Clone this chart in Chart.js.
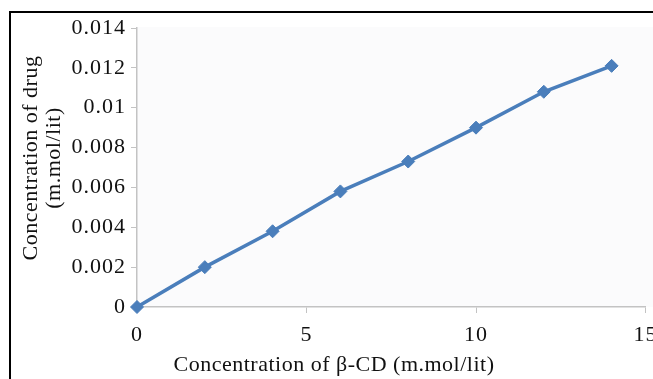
<!DOCTYPE html>
<html>
<head>
<meta charset="utf-8">
<script src="https://cdn.jsdelivr.net/npm/chart.js@4/dist/chart.umd.min.js"></script>
<style>
  html, body { margin: 0; padding: 0; background: #ffffff; }
  #wrap { width: 653px; height: 379px; position: relative; }
</style>
</head>
<body>
<div id="wrap"><canvas id="c" width="653" height="379"></canvas></div>
<script>
// β-CD concentration (m.mol/lit) and measured drug concentration (m.mol/lit)
const betaCD = [0, 2, 4, 6, 8, 10, 12, 14];
const drugConc = [0, 0.002, 0.0038, 0.0058, 0.0073, 0.009, 0.0108, 0.0121];

// axis ticks
const xTickValues = [0, 5, 10, 15];
const xTickLabels = ['0', '5', '10', '15'];
const yTickValues = [0, 0.002, 0.004, 0.006, 0.008, 0.01, 0.012, 0.014];
const yTickLabels = ['0', '0.002', '0.004', '0.006', '0.008', '0.01', '0.012', '0.014'];

// axis titles
const xTitle = 'Concentration of \u03B2-CD (m.mol/lit)';
const yTitleLines = ['Concentration of drug', '(m.mol/lit)'];

const FONT = "'Liberation Serif', 'Times New Roman', serif";
const SERIES_BLUE = '#4a7ebb';
const AXIS_GREY = '#c3c3c3';

const points = betaCD.map((x, i) => ({ x: x, y: drugConc[i] }));

// slightly open tracking for the tick labels
const tracking = {
  id: 'tracking',
  beforeUpdate(chart) { chart.ctx.letterSpacing = '1px'; },
  beforeDraw(chart) { chart.ctx.letterSpacing = '1px'; }
};

// plot background, axis titles and the black frame
const decorations = {
  id: 'decorations',
  beforeDraw(chart) {
    const { ctx, chartArea: a } = chart;
    ctx.save();
    ctx.fillStyle = '#fbfbfc';
    ctx.fillRect(a.left, a.top - 1, chart.width - a.left, a.bottom - a.top + 1);
    ctx.restore();
  },
  afterDraw(chart) {
    const { ctx } = chart;
    ctx.save();
    ctx.letterSpacing = '0.5px';
    ctx.fillStyle = '#111111';
    ctx.font = '22px ' + FONT;
    ctx.textAlign = 'center';
    ctx.textBaseline = 'alphabetic';
    ctx.fillText(xTitle, 334, 371);

    const baselines = [37, 60];
    yTitleLines.forEach((line, i) => {
      ctx.save();
      ctx.translate(baselines[i], 158);
      ctx.rotate(-Math.PI / 2);
      ctx.fillText(line, 0, 0);
      ctx.restore();
    });

    ctx.fillStyle = '#000000';
    ctx.fillRect(9, 11, chart.width - 9, 2);
    ctx.fillRect(9, 11, 2, chart.height - 11);
    ctx.restore();
  }
};

new Chart(document.getElementById('c'), {
  type: 'scatter',
  data: {
    datasets: [{
      data: points,
      showLine: true,
      borderColor: SERIES_BLUE,
      borderWidth: 3.5,
      tension: 0,
      pointStyle: 'rectRot',
      pointRadius: 6.5,
      pointBackgroundColor: SERIES_BLUE,
      pointBorderColor: SERIES_BLUE,
      pointBorderWidth: 1,
      clip: false
    }]
  },
  options: {
    responsive: false,
    animation: false,
    devicePixelRatio: 1,
    layout: { padding: { left: 0, right: 5, top: 28, bottom: 0 } },
    plugins: { legend: { display: false }, tooltip: { enabled: false } },
    scales: {
      x: {
        type: 'linear',
        min: 0,
        max: 15,
        afterBuildTicks: s => { s.ticks = xTickValues.map(v => ({ value: v })); },
        afterFit: s => { s.height = 72; s.paddingLeft = 0; s.paddingRight = 0; },
        grid: { display: true, drawOnChartArea: false, drawTicks: true, tickLength: 6, color: AXIS_GREY, lineWidth: 1 },
        border: { display: true, color: AXIS_GREY, width: 1.5 },
        ticks: {
          autoSkip: false,
          maxRotation: 0,
          padding: 9,
          color: '#111111',
          font: { family: FONT, size: 22 },
          callback: v => xTickLabels[xTickValues.indexOf(v)]
        }
      },
      y: {
        type: 'linear',
        min: 0,
        max: 0.014,
        afterBuildTicks: s => { s.ticks = yTickValues.map(v => ({ value: v })); },
        afterFit: s => { s.width = 137; },
        grid: { display: true, drawOnChartArea: false, drawTicks: true, tickLength: 6, color: AXIS_GREY, lineWidth: 1 },
        border: { display: true, color: AXIS_GREY, width: 1.5 },
        ticks: {
          autoSkip: false,
          padding: 5,
          color: '#111111',
          font: { family: FONT, size: 22 },
          callback: (v, i) => yTickLabels[i]
        }
      }
    }
  },
  plugins: [tracking, decorations]
});
</script>
</body>
</html>
